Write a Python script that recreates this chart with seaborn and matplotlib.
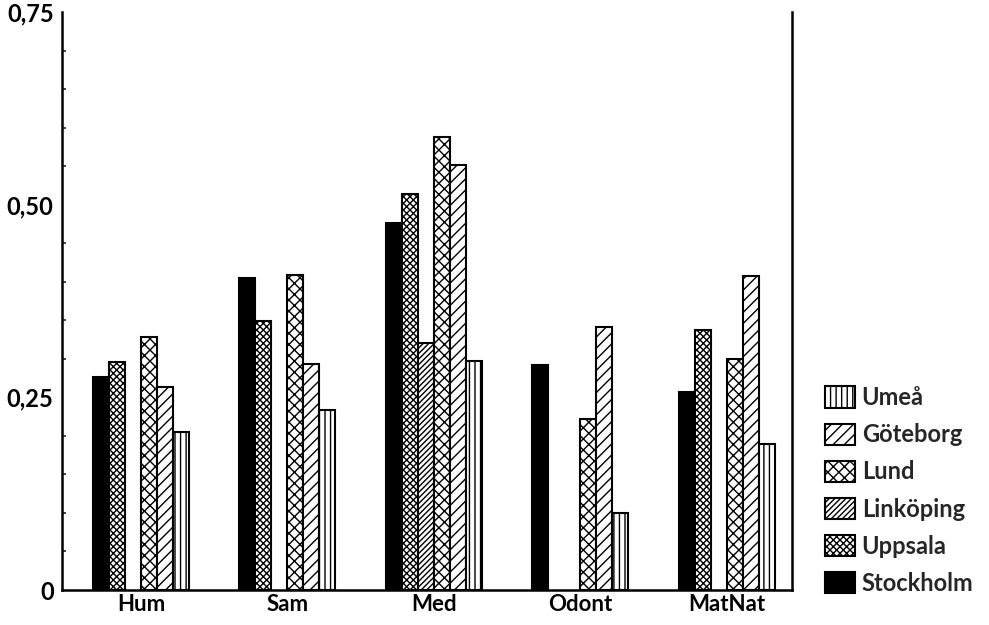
import numpy as np
import pandas as pd
import matplotlib
matplotlib.use("Agg")
import matplotlib.pyplot as plt
from matplotlib.patches import Patch
from matplotlib.ticker import MultipleLocator, FixedLocator
import seaborn as sns

# values
categories = ["Hum", "Sam", "Med", "Odont", "MatNat"]
cities = ["Stockholm", "Uppsala", "Linköping", "Lund", "Göteborg", "Umeå"]
stockholm = [0.276, 0.405, 0.476, 0.292, 0.257]
uppsala = [0.296, 0.349, 0.514, np.nan, 0.338]
linkoping = [np.nan, np.nan, 0.320, np.nan, np.nan]
lund = [0.328, 0.409, 0.588, 0.222, 0.300]
goteborg = [0.263, 0.293, 0.552, 0.341, 0.407]
umea = [0.205, 0.233, 0.297, 0.100, 0.190]
y_ticks = [0, 0.25, 0.50, 0.75]
y_ticklabels = ["0", "0,25", "0,50", "0,75"]

series = [stockholm, uppsala, linkoping, lund, goteborg, umea]
hatches = ["", "xxxxx", "//////", "xxx", "///", "|||"]
faces = ["black", "white", "white", "white", "white", "white"]

rows = []
for city, vals in zip(cities, series):
    for cat, v in zip(categories, vals):
        rows.append({"fak": cat, "stad": city, "varde": v})
df = pd.DataFrame(rows)

sns.set_style("white")
plt.rcParams["font.family"] = ["Lato", "DejaVu Sans"]
plt.rcParams["hatch.linewidth"] = 1.0
plt.rcParams["hatch.color"] = "black"

fig = plt.figure(figsize=(9.89, 6.25), dpi=100)
ax = fig.add_axes([62 / 989, 1 - 590 / 625, (792 - 62) / 989, (590 - 12) / 625])

sns.barplot(data=df.dropna(), x="fak", y="varde", hue="stad",
            order=categories, hue_order=cities, width=0.655,
            errorbar=None, ax=ax, legend=False)

for cont, h, fc in zip(ax.containers, hatches, faces):
    for bar in cont:
        bar.set_facecolor(fc)
        bar.set_edgecolor("black")
        bar.set_linewidth(1.5)
        bar.set_hatch(h)

ax.set_xlim(-0.539, 4.444)
ax.set_ylim(0, 0.75)
ax.yaxis.set_major_locator(FixedLocator(y_ticks))
ax.set_yticklabels(y_ticklabels)
ax.yaxis.set_minor_locator(MultipleLocator(0.05))
ax.tick_params(axis="y", which="major", direction="in", length=6, width=1.5,
               labelsize=17, pad=6)
ax.tick_params(axis="y", which="minor", direction="in", length=3, width=1.2, left=True)
ax.tick_params(axis="x", length=0, labelsize=16, pad=3)
for lab in ax.get_xticklabels() + ax.get_yticklabels():
    lab.set_fontweight("bold")
    lab.set_color("black")
ax.set_xlabel("")
ax.set_ylabel("")

ax.spines["top"].set_visible(False)
for side in ["left", "right", "bottom"]:
    ax.spines[side].set_linewidth(1.8)
    ax.spines[side].set_color("black")

# legend in the reverse order of the bars
handles = [Patch(facecolor=fc, edgecolor="black", hatch=h, linewidth=1.5)
           for h, fc in zip(hatches, faces)][::-1]
fig.legend(handles, cities[::-1], loc="upper left",
           bbox_to_anchor=(818 / 989, 1 - 379 / 625), frameon=False,
           prop={"size": 17, "weight": "bold"}, handlelength=1.25,
           handleheight=1.0, labelspacing=0.6, handletextpad=0.3,
           borderaxespad=0.1, borderpad=0.2)

fig.savefig("out.png", dpi=100, facecolor="white")
